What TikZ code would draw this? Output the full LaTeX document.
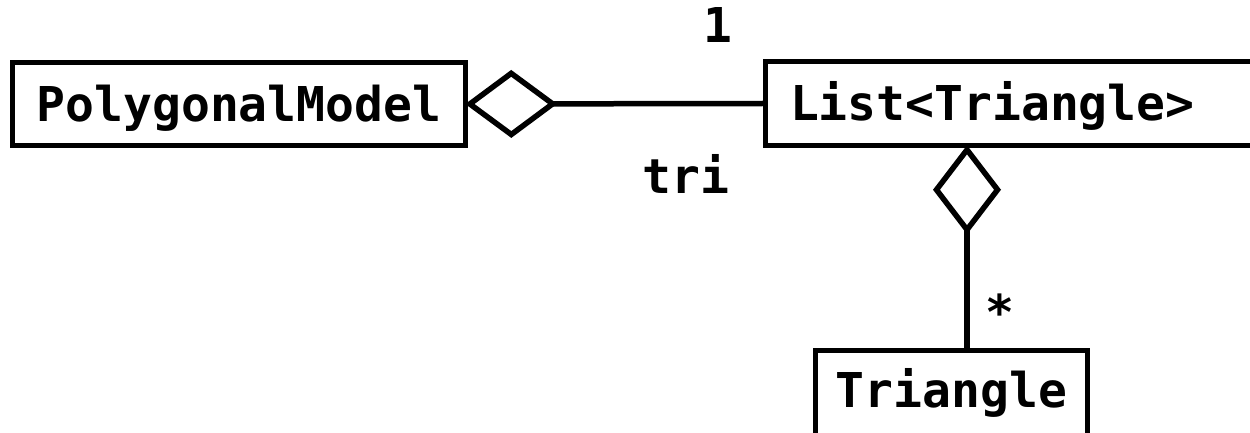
\documentclass[tikz,border=0pt]{standalone}
\usepackage{fontspec}
\newfontfamily\umlfont{DejaVu Sans Mono}
\usetikzlibrary{arrows.meta}

\begin{document}
\begin{tikzpicture}[x=1pt,y=-1pt,
  every node/.style={font=\umlfont\bfseries\fontsize{48}{58}\selectfont},
  classbox/.style={draw, line width=5.5pt, inner xsep=0pt, inner ysep=0pt,
                   text height=35pt, text depth=0pt},
  aggr/.style={line width=5.5pt, line join=miter,
               {Diamond[open,length=92pt,width=68pt]}-},
  mult/.style={anchor=base}
  ]
  \useasboundingbox (0,0) rectangle (1250,433);
  \clip (0,0) rectangle (1250,433);

  % classes
  \node[classbox, minimum width=453pt, minimum height=83pt] (poly) at (239,104) {PolygonalModel};
  \node[classbox, minimum height=84pt, text width=486pt, align=left, inner xsep=24.5pt]
       (list) at (1033,103.5) {List<Triangle>};
  \node[classbox, minimum width=272pt, minimum height=94.5pt, text depth=16.5pt]
       (tri) at (951.5,397.75) {Triangle};

  % aggregations
  \draw[aggr] ([xshift=-3pt]poly.east) -- (list.west);
  \draw[aggr, {Diamond[open,length=89pt,width=68pt]}-]
       ([xshift=-66pt,yshift=3pt]list.south) -- ([xshift=15.5pt]tri.north);

  % multiplicities and role name
  \node[mult] (one) at (718,43) {1};
  \node[mult] (role) at (686,193) {tri};
  \node[mult] (many) at (1000,329) {*};
\end{tikzpicture}
\end{document}
